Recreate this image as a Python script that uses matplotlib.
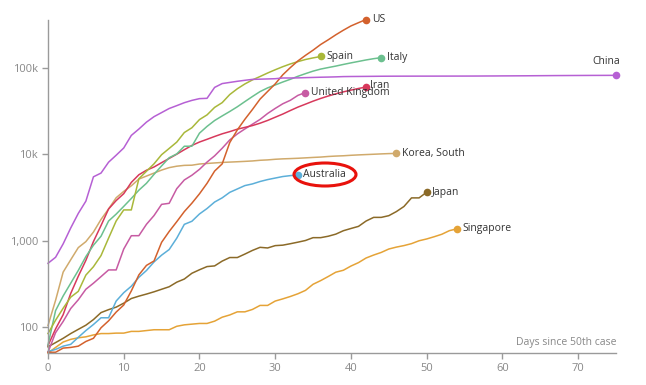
import matplotlib
matplotlib.use("Agg")
import matplotlib.pyplot as plt
from matplotlib.patches import Ellipse
import numpy as np

china = [548, 643, 920, 1406, 2075, 2877, 5509, 6087, 8141, 9802, 11891, 16630, 19716, 23707,
         27440, 30587, 34110, 36814, 39829, 42354, 44386, 44759, 59895, 66358, 68413, 70513,
         72434, 74211, 74619, 75077, 75550, 77001, 77022, 77241, 77754, 78166, 78600, 78928,
         79356, 79932, 80136, 80261, 80386, 80537, 80690, 80770, 80823, 80860, 80887, 80921,
         80932, 80945, 80977, 81003, 81033, 81058, 81102, 81156, 81250, 81305, 81435, 81498,
         81591, 81661, 81782, 81897, 81999, 82122, 82198, 82279, 82361, 82432, 82511, 82543,
         82602, 82665]
us = [51, 51, 57, 58, 60, 68, 74, 98, 118, 149, 180, 262, 402, 518, 583, 959, 1281, 1663, 2179,
      2726, 3499, 4632, 6421, 7783, 13747, 19273, 25600, 33276, 43847, 53740, 65778, 83836,
      101657, 121478, 140886, 161807, 188172, 213372, 243762, 275586, 308853, 337072, 366667]
italy = [62, 155, 229, 322, 453, 655, 888, 1128, 1694, 2036, 2502, 3089, 3858, 4636, 5883, 7375,
         9172, 10149, 12462, 12462, 17660, 21157, 24747, 27980, 31506, 35713, 41035, 47021,
         53578, 59138, 63927, 69176, 74386, 80589, 86498, 92472, 97689, 101739, 105792, 110574,
         115242, 119827, 124632, 128948, 132547]
spain = [84, 120, 165, 222, 259, 400, 500, 673, 1073, 1695, 2277, 2277, 5232, 6391, 7798, 9942,
         11748, 13910, 17963, 20410, 25374, 28768, 35136, 39885, 49515, 57786, 65719, 73235,
         80110, 87956, 95923, 104118, 112065, 119199, 126168, 131646, 136675]
iran = [61, 95, 139, 245, 388, 593, 978, 1501, 2336, 2922, 3513, 4747, 5823, 6566, 7161, 8042,
        9000, 10075, 11364, 12729, 13938, 14991, 16169, 17361, 18407, 19644, 20610, 21638,
        23049, 24811, 27017, 29406, 32332, 35408, 38309, 41495, 44605, 47593, 50468, 53183,
        55743, 58226, 60500]
uk = [51, 86, 116, 164, 207, 274, 322, 384, 459, 459, 802, 1144, 1145, 1551, 1960, 2642, 2716,
      4014, 5067, 5745, 6726, 8164, 9640, 11812, 14745, 17312, 19780, 22453, 25481, 29865,
      34173, 38689, 42477, 48436, 52279]
korea = [104, 204, 433, 602, 833, 977, 1261, 1766, 2337, 3150, 3736, 4335, 5186, 5621, 6088,
         6593, 7041, 7314, 7478, 7513, 7755, 7869, 7979, 8086, 8162, 8236, 8320, 8413, 8565,
         8652, 8799, 8897, 8961, 9037, 9137, 9241, 9332, 9478, 9583, 9661, 9786, 9887, 9976,
         10062, 10156, 10237, 10284]
australia = [52, 55, 60, 63, 76, 91, 107, 128, 128, 200, 250, 297, 377, 452, 568, 681, 791, 1071,
             1549, 1682, 2044, 2364, 2810, 3143, 3640, 3984, 4361, 4559, 4862, 5116, 5330, 5550,
             5687, 5797]
japan = [59, 66, 74, 84, 94, 105, 122, 147, 159, 170, 189, 214, 228, 241, 256, 274, 293, 331, 360,
         420, 461, 502, 511, 581, 639, 639, 701, 773, 839, 825, 878, 889, 924, 963, 1007, 1086,
         1086, 1128, 1193, 1307, 1387, 1468, 1693, 1866, 1866, 1953, 2178, 2495, 3139, 3139, 3654]
singapore = [50, 58, 67, 72, 75, 77, 81, 84, 84, 85, 85, 89, 89, 91, 93, 93, 93, 102, 106, 108,
             110, 110, 117, 130, 138, 150, 150, 160, 178, 178, 200, 212, 226, 243, 266, 313, 345,
             385, 432, 455, 509, 558, 631, 683, 732, 802, 844, 879, 926, 1000, 1049, 1114, 1189,
             1309, 1375]

series = [
    ("Singapore", singapore, "#e5a337"),
    ("Japan", japan, "#8b6a28"),
    ("Australia", australia, "#5cafd9"),
    ("Korea, South", korea, "#d0aa6c"),
    ("United Kingdom", uk, "#c75ba3"),
    ("Iran", iran, "#d7395c"),
    ("Italy", italy, "#6cc08f"),
    ("Spain", spain, "#a9b83a"),
    ("US", us, "#d3612d"),
    ("China", china, "#b660d4"),
]

yticks = [100, 1000, 10000, 100000]
ytick_labels = ["100", "1,000", "10k", "100k"]
xticks = [0, 10, 20, 30, 40, 50, 60, 70]

plt.rcParams['font.family'] = ['Open Sans', 'DejaVu Sans']

W, H = 646, 385
fig = plt.figure(figsize=(W / 100, H / 100), dpi=100)
ax = fig.add_axes([48 / W, (H - 353) / H, (616 - 48) / W, (353 - 20) / H])

ax.set_yscale('log')
ax.set_ylim(50, 362000)
ax.set_xlim(0, 75)

label_offsets = {"Iran": (3, 1)}
for name, vals, color in series:
    x = np.arange(len(vals))
    ax.plot(x, vals, color=color, lw=1.1, clip_on=False, solid_joinstyle='round')
    ax.plot(x[-1], vals[-1], 'o', color=color, ms=5.5, mec='none', clip_on=False, zorder=5)
    if name == "China":
        ax.annotate(name, (x[-1], vals[-1]), xytext=(3, 6), textcoords='offset points',
                    ha='right', va='bottom', fontsize=7.5, color='#333333')
    else:
        off = label_offsets.get(name, (4, 0))
        ax.annotate(name, (x[-1], vals[-1]), xytext=off, textcoords='offset points',
                    ha='left', va='center', fontsize=7.5, color='#333333', zorder=6)

# red highlight ellipse around the Australia label (pixel coordinates)
ell = Ellipse((325, H - 174.5), width=62, height=23, transform=None, fill=False,
              ec='#e8120c', lw=2.2, zorder=7)
fig.patches.append(ell)

ax.set_yticks(yticks)
ax.set_yticklabels(ytick_labels)
ax.yaxis.set_minor_locator(matplotlib.ticker.NullLocator())
ax.set_xticks(xticks)

for s in ['top', 'right']:
    ax.spines[s].set_visible(False)
for s in ['left', 'bottom']:
    ax.spines[s].set_color('#9a9a9a')
    ax.spines[s].set_linewidth(1.0)
ax.tick_params(axis='both', colors='#9a9a9a', labelcolor='#888888', labelsize=8, length=4,
               width=1.0, direction='out', pad=3)

ax.text(1.0, 0.015, "Days since 50th case", transform=ax.transAxes, ha='right', va='bottom',
        fontsize=7.5, color='#888888')

fig.savefig("out.png", dpi=100)
